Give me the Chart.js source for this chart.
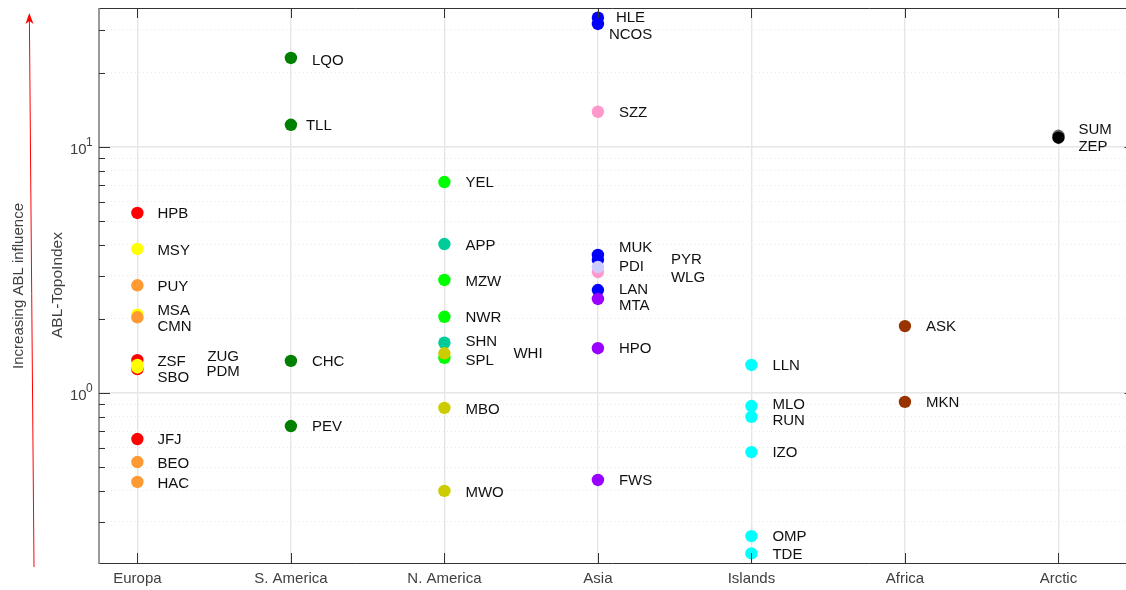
<!DOCTYPE html>
<html>
<head>
<meta charset="utf-8">
<title>ABL-TopoIndex</title>
<script src="https://cdn.jsdelivr.net/npm/chart.js@4"></script>
<style>
    html, body { margin: 0; padding: 0; background: #fff; }
    canvas { display: block; }
</style>
</head>
<body>
<canvas id="ablChart" width="1126" height="590"></canvas>
<script>
const categories = ['Europa', 'S. America', 'N. America', 'Asia', 'Islands', 'Africa', 'Arctic'];

// 1-based position in categories, drawing order matters where dots overlap
const stationNames = [
    'HPB', 'MSY', 'PUY', 'MSA', 'CMN', 'ZSF', 'SBO', 'ZUG', 'PDM', 'JFJ', 'BEO', 'HAC',
    'LQO', 'TLL', 'CHC', 'PEV',
    'YEL', 'APP', 'MZW', 'NWR', 'SHN', 'SPL', 'WHI', 'MBO', 'MWO',
    'HLE', 'NCOS', 'SZZ', 'MUK', 'PYR', 'WLG', 'PDI', 'LAN', 'MTA', 'HPO', 'FWS',
    'LLN', 'MLO', 'RUN', 'IZO', 'OMP', 'TDE',
    'ASK', 'MKN',
    'SUM', 'ZEP'
];
const stationCategory = [
    1, 1, 1, 1, 1, 1, 1, 1, 1, 1, 1, 1,
    2, 2, 2, 2,
    3, 3, 3, 3, 3, 3, 3, 3, 3,
    4, 4, 4, 4, 4, 4, 4, 4, 4, 4, 4,
    5, 5, 5, 5, 5, 5,
    6, 6,
    7, 7
];
const topoIndex = [
    5.39, 3.85, 2.74, 2.08, 2.03, 1.36, 1.25, 1.30, 1.27, 0.65, 0.524, 0.435,
    23.0, 12.3, 1.35, 0.734,
    7.2, 4.03, 2.88, 2.04, 1.6, 1.39, 1.45, 0.87, 0.40,
    33.5, 31.6, 13.9, 3.64, 3.47, 3.10, 3.25, 2.62, 2.41, 1.52, 0.443,
    1.30, 0.885, 0.80, 0.575, 0.262, 0.223,
    1.87, 0.92,
    11.1, 10.9
];
const stationColors = [
    '#ff0000', '#ffff00', '#ff9933', '#ffff00', '#ff9933', '#ff0000', '#ff0000', '#ffff00', '#ffff00', '#ff0000', '#ff9933', '#ff9933',
    '#008000', '#008000', '#008000', '#008000',
    '#00ff00', '#00cc99', '#00ff00', '#00ff00', '#00cc99', '#00ff00', '#cccc00', '#cccc00', '#cccc00',
    '#0000ff', '#0000ff', '#ff99cc', '#0000ff', '#0000ff', '#ff99cc', '#ccccff', '#0000ff', '#9900ff', '#9900ff', '#9900ff',
    '#00ffff', '#00ffff', '#00ffff', '#00ffff', '#00ffff', '#00ffff',
    '#993300', '#993300',
    '#666666', '#000000'
];

// label offset from its dot, in pixels
const labelDx = [
    20, 20, 20, 20, 20, 20, 20, 70, 69, 20, 20, 20,
    21, 15, 21, 21,
    21, 21, 21, 21, 21, 21, 69, 21, 21,
    18, 11, 21, 21, 73, 73, 21, 21, 21, 21, 21,
    21, 21, 21, 21, 21, 21,
    21, 21,
    20, 20
];
const labelDy = [
    0, 1, 0.5, -5, 8.5, 1, 8, -9, 3, 0, 1, 1,
    2, 0, 0, 0,
    0, 1, 1, 0, -2, 2, 0, 1, 1,
    -1, 10, 0, -8, -1, 5, -1, -1, 6, 0, 0,
    0, -2, 3, 0, 0, 0.5,
    0, 0,
    -7, 8
];

const yMajorTicks = [1, 10];
const yMinorTicks = [0.3, 0.4, 0.5, 0.6, 0.7, 0.8, 0.9, 2, 3, 4, 5, 6, 7, 8, 9, 20, 30];

const FONT = '"Liberation Sans", Arial, sans-serif';

// Chart.js reserves room for the outer tick labels, the frame here runs to the edge
function dropScalePadding(scale) {
    scale.paddingLeft = 0;
    scale.paddingRight = 0;
    scale.paddingTop = 0;
    scale.paddingBottom = 0;
}

// Axes frame, inward ticks, station labels, arrow and titles
const decorations = {
    id: 'decorations',
    afterDatasetsDraw(chart) {
        const { ctx, chartArea: area, scales: { x, y } } = chart;
        ctx.save();

        const line = (x1, y1, x2, y2, color, width) => {
            ctx.strokeStyle = color;
            ctx.lineWidth = width;
            ctx.beginPath();
            ctx.moveTo(x1, y1);
            ctx.lineTo(x2, y2);
            ctx.stroke();
        };

        // frame
        line(area.left, area.top + 0.5, area.right, area.top + 0.5, '#333', 1);
        line(area.left, area.bottom + 0.5, area.right, area.bottom + 0.5, '#333', 1);
        line(area.left, area.top, area.left, area.bottom + 1, '#808080', 1.6);

        // ticks
        categories.forEach((c, i) => {
            const px = Math.round(x.getPixelForValue(i + 1)) + 0.5;
            line(px, area.top, px, area.top + 10, '#333', 1);
            line(px, area.bottom, px, area.bottom - 10, '#333', 1);
        });
        yMajorTicks.forEach(v => {
            const py = Math.round(y.getPixelForValue(v)) + 0.5;
            line(area.left, py, area.left + 11, py, '#333', 1);
            line(area.right, py, area.right - 1.5, py, '#333', 1);
        });
        yMinorTicks.forEach(v => {
            const py = Math.round(y.getPixelForValue(v)) + 0.5;
            line(area.left, py, area.left + 6, py, '#333', 1);
        });

        // station labels
        ctx.font = '15px ' + FONT;
        ctx.fillStyle = '#111';
        ctx.textAlign = 'left';
        ctx.textBaseline = 'middle';
        stationNames.forEach((name, i) => {
            const px = x.getPixelForValue(stationCategory[i]) + labelDx[i];
            const py = y.getPixelForValue(topoIndex[i]) + labelDy[i] + 1;
            ctx.fillText(name, px, py);
        });

        // y tick labels with exponent
        ctx.fillStyle = '#404040';
        ctx.textAlign = 'left';
        [[1, '0'], [10, '1']].forEach(([v, exp]) => {
            const py = y.getPixelForValue(v);
            ctx.font = '15px ' + FONT;
            ctx.fillText('10', 70, py + 3);
            ctx.font = '12px ' + FONT;
            ctx.fillText(exp, 86, py - 4);
        });

        // y titles
        ctx.textAlign = 'center';
        ctx.fillStyle = '#404040';
        ctx.font = '15.5px ' + FONT;
        ctx.save();
        ctx.translate(58, 285);
        ctx.rotate(-Math.PI / 2);
        ctx.fillText('ABL-TopoIndex', 0, 0);
        ctx.restore();
        ctx.font = '15px ' + FONT;
        ctx.save();
        ctx.translate(19, 286);
        ctx.rotate(-Math.PI / 2);
        ctx.fillText('Increasing ABL influence', 0, 0);
        ctx.restore();

        // red arrow
        line(34, 567, 29.4, 20, '#ff0000', 1);
        ctx.fillStyle = '#ff0000';
        ctx.beginPath();
        ctx.moveTo(29.3, 13);
        ctx.lineTo(33.5, 24);
        ctx.lineTo(29.4, 21);
        ctx.lineTo(25.5, 24);
        ctx.closePath();
        ctx.fill();

        ctx.restore();
    }
};

new Chart(document.getElementById('ablChart'), {
    type: 'scatter',
    data: {
        datasets: [{
            data: topoIndex.map((v, i) => ({ x: stationCategory[i], y: v })),
            backgroundColor: stationColors,
            borderColor: stationColors,
            pointRadius: 6.2,
            pointBorderWidth: 0
        }]
    },
    options: {
        responsive: false,
        animation: false,
        events: [],
        layout: { autoPadding: false, padding: { top: 8, left: 0, right: 0, bottom: 0 } },
        plugins: { legend: { display: false }, tooltip: { enabled: false } },
        scales: {
            x: {
                type: 'linear',
                min: 0.75,
                max: 7.44,
                afterFit: scale => { scale.height = 27; dropScalePadding(scale); },
                afterBuildTicks: scale => {
                    scale.ticks = categories.map((c, i) => ({ value: i + 1 }));
                },
                grid: { color: '#e6e6e6', lineWidth: 1.4, drawTicks: false },
                border: { display: false },
                ticks: {
                    padding: 7,
                    maxRotation: 0,
                    autoSkip: false,
                    color: '#404040',
                    font: { family: FONT, size: 15 },
                    callback: v => categories[v - 1]
                }
            },
            y: {
                type: 'logarithmic',
                min: 0.2037,
                max: 36.7,
                afterFit: scale => { scale.width = 99; dropScalePadding(scale); },
                afterBuildTicks: scale => {
                    scale.ticks = yMajorTicks.concat(yMinorTicks).map(v => ({ value: v }));
                },
                grid: {
                    drawTicks: false,
                    color: c => yMajorTicks.includes(c.tick.value) ? '#e6e6e6' : '#ebebeb',
                    lineWidth: c => yMajorTicks.includes(c.tick.value) ? 1.4 : 1
                },
                border: {
                    display: false,
                    dash: c => yMajorTicks.includes(c.tick.value) ? [] : [1, 3]
                },
                ticks: { autoSkip: false, callback: () => '' }
            }
        }
    },
    plugins: [decorations]
});
</script>
</body>
</html>
